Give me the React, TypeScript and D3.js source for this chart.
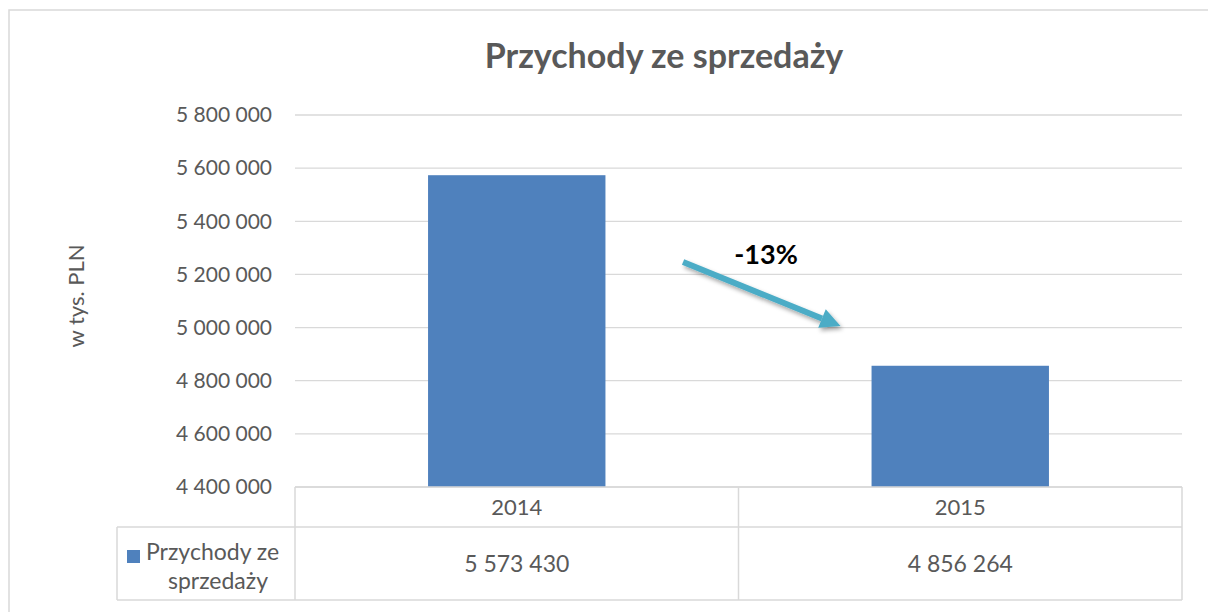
import React, { useEffect, useRef } from 'react';
import * as d3 from 'd3';

const categories = ['2014', '2015'];
const values = [5573430, 4856264];
const seriesName = 'Przychody ze sprzedaży';
const yTicks = [4400000, 4600000, 4800000, 5000000, 5200000, 5400000, 5600000, 5800000];
const changeLabel = '-13%';

const fmt = (v: number) => d3.format(',')(v).replace(/,/g, ' ');

function App() {
    const svgRef = useRef<SVGSVGElement>(null);

    useEffect(() => {
        const width = 1208;
        const height = 612;
        const left = 295;
        const right = 1182;
        const top = 115;
        const bottom = 487;
        const font = 'Lato, "Open Sans", sans-serif';
        const grey = '#595959';
        const lineCol = '#d9d9d9';

        const svg = d3.select(svgRef.current)
            .attr('width', width)
            .attr('height', height);
        svg.selectAll('*').remove();

        const x = d3.scaleBand().domain(categories).range([left, right]).paddingInner(0).paddingOuter(0);
        const y = d3.scaleLinear().domain([4400000, 5800000]).range([bottom, top]);

        // outer chart frame
        svg.append('path')
            .attr('d', `M9,${height} L9,10 L${width},10`)
            .attr('fill', 'none')
            .attr('stroke', lineCol)
            .attr('stroke-width', 1.5);

        svg.append('text')
            .attr('x', 664)
            .attr('y', 68)
            .attr('text-anchor', 'middle')
            .attr('font-family', font)
            .attr('font-weight', 'bold')
            .attr('font-size', 34)
            .attr('fill', grey)
            .text(seriesName);

        // grid + tick labels
        svg.selectAll('.grid')
            .data(yTicks)
            .enter()
            .append('line')
            .attr('x1', left)
            .attr('x2', right)
            .attr('y1', d => y(d))
            .attr('y2', d => y(d))
            .attr('stroke', lineCol)
            .attr('stroke-width', 1.3);

        svg.selectAll('.tick')
            .data(yTicks)
            .enter()
            .append('text')
            .attr('x', 272)
            .attr('y', d => y(d))
            .attr('dy', '0.35em')
            .attr('text-anchor', 'end')
            .attr('font-family', font)
            .attr('font-size', 21)
            .attr('fill', grey)
            .text(d => fmt(d));

        svg.append('text')
            .attr('transform', `translate(84,${(top + bottom) / 2 - 5}) rotate(-90)`)
            .attr('text-anchor', 'middle')
            .attr('font-family', font)
            .attr('font-size', 22)
            .attr('fill', grey)
            .text('w tys. PLN');

        // bars
        const barW = x.bandwidth() * 0.4;
        svg.selectAll('.bar')
            .data(values)
            .enter()
            .append('rect')
            .attr('x', (d, i) => x(categories[i])! + (x.bandwidth() - barW) / 2)
            .attr('y', d => y(d))
            .attr('width', barW)
            .attr('height', d => bottom - y(d))
            .attr('fill', '#4f81bd');

        // data table
        const rowMid = 527;
        const tableBottom = 600;
        const tableLeft = 117;
        const tbl = svg.append('g')
            .attr('fill', 'none')
            .attr('stroke', lineCol)
            .attr('stroke-width', 1.5);
        tbl.append('line').attr('x1', left).attr('x2', right).attr('y1', bottom).attr('y2', bottom);
        tbl.append('line').attr('x1', tableLeft).attr('x2', right).attr('y1', rowMid).attr('y2', rowMid);
        tbl.append('line').attr('x1', tableLeft).attr('x2', right).attr('y1', tableBottom).attr('y2', tableBottom);
        tbl.append('line').attr('x1', tableLeft).attr('x2', tableLeft).attr('y1', rowMid).attr('y2', tableBottom);
        [left, ...categories.map(c => x(c)! + x.bandwidth())].forEach(xx => {
            tbl.append('line').attr('x1', xx).attr('x2', xx).attr('y1', bottom).attr('y2', tableBottom);
        });

        svg.selectAll('.cat')
            .data(categories)
            .enter()
            .append('text')
            .attr('x', d => x(d)! + x.bandwidth() / 2)
            .attr('y', (bottom + rowMid) / 2)
            .attr('dy', '0.35em')
            .attr('text-anchor', 'middle')
            .attr('font-family', font)
            .attr('font-size', 22)
            .attr('fill', grey)
            .text(d => d);

        svg.selectAll('.val')
            .data(values)
            .enter()
            .append('text')
            .attr('x', (d, i) => x(categories[i])! + x.bandwidth() / 2)
            .attr('y', (rowMid + tableBottom) / 2)
            .attr('dy', '0.35em')
            .attr('text-anchor', 'middle')
            .attr('font-family', font)
            .attr('font-size', 23)
            .attr('fill', grey)
            .text(d => fmt(d));

        // legend key inside table
        svg.append('rect')
            .attr('x', 127)
            .attr('y', 550)
            .attr('width', 13)
            .attr('height', 13)
            .attr('fill', '#4f81bd');
        const legendText = svg.append('text')
            .attr('font-family', font)
            .attr('font-size', 23)
            .attr('fill', grey);
        legendText.append('tspan').attr('x', 146).attr('y', 552).attr('dy', '0.35em').text('Przychody ze');
        legendText.append('tspan').attr('x', 218).attr('y', 581).attr('text-anchor', 'middle').attr('dy', '0.35em').text('sprzedaży');

        // change arrow annotation
        const defs = svg.append('defs');
        const shadow = defs.append('filter').attr('id', 'shadow').attr('x', '-20%').attr('y', '-50%').attr('width', '140%').attr('height', '200%');
        shadow.append('feDropShadow')
            .attr('dx', 2).attr('dy', 3).attr('stdDeviation', 2)
            .attr('flood-color', '#000').attr('flood-opacity', 0.35);

        const x0 = x('2014')! + x.bandwidth() * 0.875;
        const y0 = y(5247000);
        const x1 = x('2015')! + x.bandwidth() * 0.23;
        const y1 = y(5006000);
        const ang = Math.atan2(y1 - y0, x1 - x0);
        const headLen = 20;
        const headW = 10;
        const bx = x1 - headLen * Math.cos(ang);
        const by = y1 - headLen * Math.sin(ang);
        const px = -Math.sin(ang);
        const py = Math.cos(ang);
        const arrow = svg.append('g').attr('filter', 'url(#shadow)');
        arrow.append('line')
            .attr('x1', x0).attr('y1', y0)
            .attr('x2', bx).attr('y2', by)
            .attr('stroke', '#4bacc6')
            .attr('stroke-width', 6);
        arrow.append('path')
            .attr('d', `M${x1},${y1} L${bx + px * headW},${by + py * headW} L${bx - px * headW},${by - py * headW} Z`)
            .attr('fill', '#4bacc6');

        svg.append('text')
            .attr('x', 766)
            .attr('y', 264)
            .attr('text-anchor', 'middle')
            .attr('font-family', font)
            .attr('font-weight', 'bold')
            .attr('font-size', 27)
            .attr('fill', '#000')
            .text(changeLabel);
    }, []);

    return (
        <div style={{ position: 'absolute', left: 0, top: 0 }}>
            <svg ref={svgRef} style={{ display: 'block', background: '#fff' }}></svg>
        </div>
    );
}

export default App;
